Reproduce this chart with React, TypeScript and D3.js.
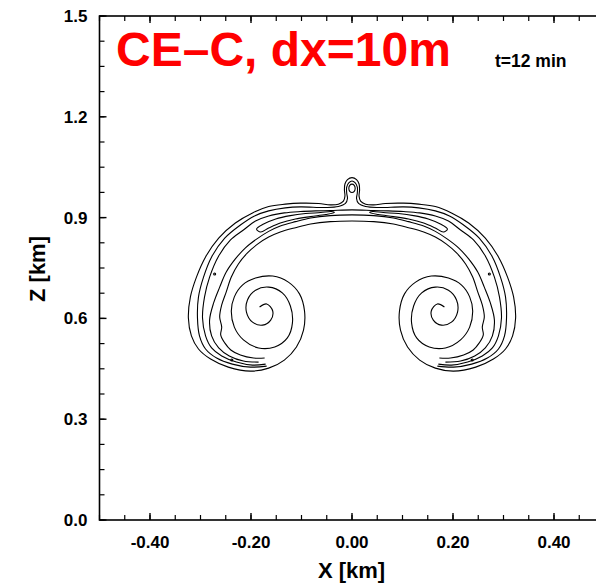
import React from 'react';
import * as d3 from 'd3';

type Pt = [number, number];

// contour traces in km (x, z), left half of the thermal; the right half mirrors it
const contour1: Pt[] = [
  [0, 1.019], [-0.009, 1.013], [-0.014, 1.0], [-0.015, 0.982], [-0.014, 0.964], [-0.017, 0.949],
  [-0.027, 0.94], [-0.043, 0.938], [-0.066, 0.942], [-0.102, 0.943], [-0.132, 0.94], [-0.165, 0.933],
  [-0.197, 0.914], [-0.231, 0.884], [-0.264, 0.839], [-0.29, 0.783], [-0.308, 0.723], [-0.32, 0.664],
  [-0.324, 0.601], [-0.318, 0.548], [-0.304, 0.509], [-0.28, 0.479], [-0.245, 0.455], [-0.201, 0.443],
  [-0.165, 0.452], [-0.134, 0.476], [-0.11, 0.515], [-0.096, 0.565], [-0.094, 0.622], [-0.104, 0.673],
  [-0.126, 0.708], [-0.157, 0.726], [-0.191, 0.72], [-0.217, 0.699], [-0.233, 0.664], [-0.239, 0.622],
  [-0.233, 0.574], [-0.215, 0.536], [-0.185, 0.512], [-0.153, 0.515], [-0.128, 0.542], [-0.118, 0.586],
  [-0.122, 0.637], [-0.138, 0.676], [-0.165, 0.693], [-0.191, 0.684], [-0.207, 0.655], [-0.209, 0.619],
  [-0.197, 0.589], [-0.177, 0.58], [-0.161, 0.595], [-0.157, 0.622], [-0.169, 0.643], [-0.183, 0.634],
];

const contour2: Pt[] = [
  [0, 1.009], [-0.006, 1.004], [-0.0105, 0.991], [-0.0105, 0.973], [-0.009, 0.957], [-0.013, 0.942],
  [-0.027, 0.933], [-0.052, 0.93], [-0.102, 0.932], [-0.132, 0.929], [-0.165, 0.92], [-0.193, 0.905],
  [-0.221, 0.878], [-0.252, 0.839], [-0.278, 0.783], [-0.294, 0.723], [-0.304, 0.664], [-0.306, 0.601],
  [-0.302, 0.548], [-0.29, 0.509], [-0.268, 0.482], [-0.237, 0.464], [-0.201, 0.455], [-0.169, 0.458],
];

const contour3: Pt[] = [
  [0, 0.923], [-0.043, 0.921], [-0.072, 0.92], [-0.102, 0.918], [-0.134, 0.914], [-0.165, 0.905],
  [-0.191, 0.89], [-0.215, 0.863], [-0.241, 0.833], [-0.264, 0.786], [-0.282, 0.723], [-0.292, 0.664],
  [-0.296, 0.601], [-0.29, 0.548], [-0.278, 0.512], [-0.258, 0.488], [-0.229, 0.47], [-0.197, 0.461],
  [-0.171, 0.464],
];

const contour4: Pt[] = [
  [0, 0.908], [-0.043, 0.906], [-0.082, 0.899], [-0.112, 0.888], [-0.142, 0.875], [-0.165, 0.859],
  [-0.189, 0.836], [-0.211, 0.81], [-0.231, 0.777], [-0.249, 0.738], [-0.262, 0.693], [-0.274, 0.646],
  [-0.282, 0.595], [-0.278, 0.548], [-0.264, 0.512], [-0.243, 0.488], [-0.215, 0.473], [-0.185, 0.47],
];

const contour5: Pt[] = [
  [0, 0.89], [-0.043, 0.888], [-0.082, 0.881], [-0.112, 0.87], [-0.142, 0.857], [-0.165, 0.842],
  [-0.187, 0.821], [-0.207, 0.795], [-0.225, 0.762], [-0.239, 0.723], [-0.249, 0.679], [-0.258, 0.64],
  [-0.262, 0.604], [-0.258, 0.574], [-0.26, 0.551], [-0.252, 0.527], [-0.24, 0.506], [-0.221, 0.491],
  [-0.195, 0.482], [-0.173, 0.482],
];

// thin closed band inside the cap
const capLoop: Pt[] = [
  [-0.189, 0.866], [-0.175, 0.881], [-0.151, 0.896], [-0.122, 0.906], [-0.092, 0.912], [-0.062, 0.915],
  [-0.041, 0.918], [-0.035, 0.915], [-0.052, 0.909], [-0.082, 0.903], [-0.112, 0.896], [-0.142, 0.884],
  [-0.165, 0.869], [-0.181, 0.857],
];

// small closed contour at the top of the central plume
const bumpCore: Pt[] = [
  [0, 0.9995], [0.0045, 0.996], [0.0063, 0.987], [0.0045, 0.978], [0, 0.9745], [-0.0045, 0.978],
  [-0.0063, 0.987], [-0.0045, 0.996],
];

const specks: Pt[] = [[-0.272, 0.732], [-0.238, 0.476]];

const xTicks = [-0.4, -0.2, 0, 0.2, 0.4];
const xTickLabels = ['-0.40', '-0.20', '0.00', '0.20', '0.40'];
const zTicks = [0, 0.3, 0.6, 0.9, 1.2, 1.5];
const zTickLabels = ['0.0', '0.3', '0.6', '0.9', '1.2', '1.5'];

const W = 596;
const H = 584;
const FONT = "'Liberation Sans', Arial, Helvetica, sans-serif";

const x = d3.scaleLinear().domain([-0.5, 0.5]).range([99.5, 604.5]);
const z = d3.scaleLinear().domain([0, 1.5]).range([520, 16]);

const mirror = (pts: Pt[]): Pt[] => pts.map(([a, b]) => [-a, b] as Pt);
const symmetric = (half: Pt[]): Pt[] => [...mirror(half).reverse(), ...half.slice(1)];

const openLine = d3.line<Pt>().x(d => x(d[0])).y(d => z(d[1])).curve(d3.curveCatmullRom.alpha(0.5));
const closedLine = d3.line<Pt>().x(d => x(d[0])).y(d => z(d[1])).curve(d3.curveCatmullRomClosed.alpha(0.5));

export default function App() {
  const [x0, x1] = x.range();
  const [zb, zt] = z.range();
  const xMinor = d3.range(-0.5, 0.5001, 0.05);
  const zMinor = d3.range(0, 1.5001, 0.075);

  const lines = [contour1, contour2, contour3, contour4, contour5].map(symmetric);
  const loops = [capLoop, mirror(capLoop), bumpCore];
  const dots = [...specks, ...mirror(specks)];

  return (
    <svg width={W} height={H} style={{ position: 'absolute', left: 0, top: 0, background: '#fff' }}>
      {/* contours */}
      <g fill="none" stroke="#000" strokeWidth={1.1} strokeLinejoin="round">
        {lines.map((pts, i) => <path key={'l' + i} d={openLine(pts) || ''} />)}
        {loops.map((pts, i) => <path key={'c' + i} d={closedLine(pts) || ''} />)}
        {dots.map((d, i) => <circle key={'d' + i} cx={x(d[0])} cy={z(d[1])} r={1} />)}
      </g>

      {/* frame and inward ticks */}
      <g stroke="#000" fill="none">
        <rect x={x0} y={zt} width={x1 - x0} height={zb - zt} strokeWidth={1.6} />
        {xMinor.map((v, i) => (
          <g key={'xm' + i} strokeWidth={1.2}>
            <line x1={x(v)} x2={x(v)} y1={zb} y2={zb - 5} />
            <line x1={x(v)} x2={x(v)} y1={zt} y2={zt + 5} />
          </g>
        ))}
        {xTicks.map((v, i) => (
          <g key={'xM' + i} strokeWidth={1.4}>
            <line x1={x(v)} x2={x(v)} y1={zb} y2={zb - 7} />
            <line x1={x(v)} x2={x(v)} y1={zt} y2={zt + 7} />
          </g>
        ))}
        {zMinor.map((v, i) => (
          <line key={'zm' + i} x1={x0} x2={x0 + 5} y1={z(v)} y2={z(v)} strokeWidth={1.2} />
        ))}
        {zTicks.map((v, i) => (
          <line key={'zM' + i} x1={x0} x2={x0 + 7} y1={z(v)} y2={z(v)} strokeWidth={1.4} />
        ))}
      </g>

      {/* tick labels */}
      <g fontFamily={FONT} fontWeight="bold" fontSize={17} fill="#000">
        {xTicks.map((v, i) => (
          <text key={'xl' + i} x={x(v)} y={547.5} textAnchor="middle">{xTickLabels[i]}</text>
        ))}
        {zTicks.map((v, i) => (
          <text key={'zl' + i} x={87.5} y={z(v) + 6} textAnchor="end">{zTickLabels[i]}</text>
        ))}
      </g>

      {/* axis titles */}
      <text x={351.5} y={578} textAnchor="middle" fontFamily={FONT} fontWeight="bold" fontSize={22}>X [km]</text>
      <text transform="translate(45,269) rotate(-90)" textAnchor="middle" fontFamily={FONT} fontWeight="bold" fontSize={22}>Z [km]</text>

      {/* titles */}
      <text x={116} y={65.5} fontFamily={FONT} fontWeight="bold" fontSize={48} fill="#ff0000">CE–C, dx=10m</text>
      <text x={495} y={66.5} fontFamily={FONT} fontWeight="bold" fontSize={17.5} fill="#000">t=12 min</text>
    </svg>
  );
}
